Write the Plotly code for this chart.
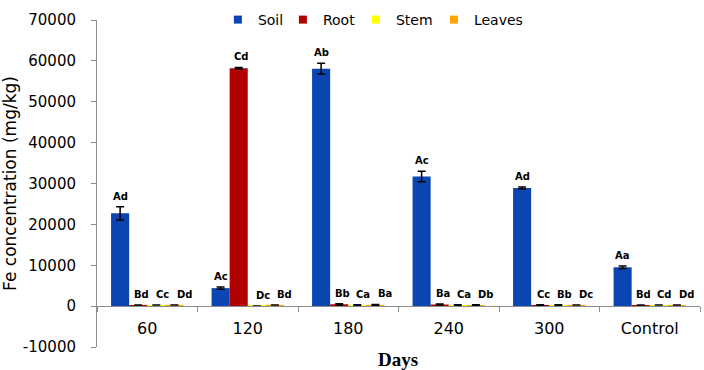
import plotly.graph_objects as go

categories = ["60", "120", "180", "240", "300", "Control"]
series_names = ["Soil", "Root", "Stem", "Leaves"]
soil = [22700, 4400, 58100, 31700, 28900, 9500]
soil_err = [1600, 250, 1300, 1300, 250, 300]
root = [250, 58200, 450, 400, 250, 250]
root_err = [0, 200, 150, 150, 100, 0]
stem = [250, 60, 250, 250, 250, 250]
stem_err = [0, 0, 100, 100, 100, 0]
leaves = [300, 300, 300, 250, 250, 250]
leaves_err = [0, 0, 100, 100, 0, 0]
labels_soil = ["Ad", "Ac", "Ab", "Ac", "Ad", "Aa"]
labels_root = ["Bd", "Cd", "Bb", "Ba", "Cc", "Bd"]
labels_stem = ["Cc", "Dc", "Ca", "Ca", "Bb", "Cd"]
labels_leaves = ["Dd", "Bd", "Ba", "Db", "Dc", "Dd"]
y_ticks = [-10000, 0, 10000, 20000, 30000, 40000, 50000, 60000, 70000]
colors = ["#0B45B2", "#B00000", "#FFFF00", "#FFA500"]

values = [soil, root, stem, leaves]
errs = [soil_err, root_err, stem_err, leaves_err]
labels = [labels_soil, labels_root, labels_stem, labels_leaves]

fig = go.Figure()
for i, name in enumerate(series_names):
    fig.add_trace(go.Bar(
        x=categories, y=values[i], name=name, showlegend=False,
        marker=dict(color=colors[i], line=dict(width=0)),
        error_y=dict(type="data", array=errs[i], color="black", thickness=1.5, width=4),
    ))

legend_ids = ["legend", "legend2", "legend3", "legend4"]
legend_x = [0.2005, 0.3083, 0.4294, 0.5588]
for i, name in enumerate(series_names):
    fig.add_trace(go.Scatter(
        x=[None], y=[None], mode="markers", name=name, legend=legend_ids[i],
        marker=dict(symbol="square", size=8, color=colors[i]),
    ))

bar_px = 18
label_shift = [0, 3, 6, 10]
annotations = []
for i in range(4):
    for j, c in enumerate(categories):
        annotations.append(dict(
            x=j, y=values[i][j] + errs[i][j], xref="x", yref="y",
            text=labels[i][j], showarrow=False, yanchor="bottom",
            xshift=(i - 1.5) * bar_px + label_shift[i], yshift=3,
            font=dict(family="DejaVu Sans", size=10, color="black", weight="bold"),
        ))
annotations.append(dict(
    x=0.499, y=-0.038, xref="paper", yref="paper", text="Days", showarrow=False,
    yanchor="middle",
    font=dict(family="Liberation Serif", size=19, color="black", weight="bold"),
))

legend_style = dict(orientation="h", y=1.0, xanchor="left", yanchor="middle",
                    font=dict(family="DejaVu Sans", size=14, color="black"),
                    bgcolor="rgba(0,0,0,0)", itemwidth=30)
legends = {lid: dict(x=legend_x[k], **legend_style) for k, lid in enumerate(legend_ids)}

fig.update_layout(
    width=704, height=370,
    margin=dict(l=97, r=4, t=11, b=23),
    plot_bgcolor="white", paper_bgcolor="white",
    barmode="group", bargap=0.28, bargroupgap=0,
    font=dict(family="DejaVu Sans", color="black"),
    showlegend=True,
    annotations=annotations,
    xaxis=dict(
        type="category", range=[-0.5, 5.5], anchor="free", position=0.125,
        showline=True, linecolor="#8C8C8C", linewidth=1,
        ticks="outside", tickson="boundaries", ticklen=5, tickcolor="#8C8C8C",
        showgrid=False, zeroline=False,
        tickfont=dict(family="DejaVu Sans", size=16, color="black"),
        ticklabelstandoff=8,
    ),
    yaxis=dict(
        range=[-10000, 70000], tickvals=y_ticks, ticktext=[str(v) for v in y_ticks],
        showline=True, linecolor="#8C8C8C", linewidth=1,
        ticks="outside", ticklen=5, tickcolor="#8C8C8C",
        showgrid=False, zeroline=False,
        tickfont=dict(family="DejaVu Sans", size=15, color="black"),
        ticklabelstandoff=12,
        title=dict(text="Fe concentration (mg/kg)", standoff=1,
                   font=dict(family="DejaVu Sans", size=17, color="black")),
    ),
    **legends,
)
fig.write_html("out.html")
